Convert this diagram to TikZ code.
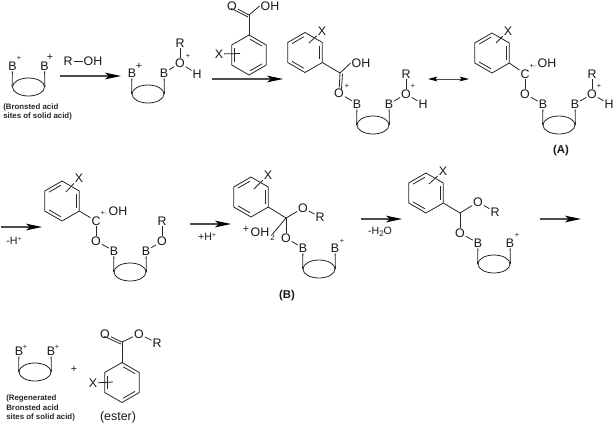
\documentclass[tikz,border=0pt]{standalone}
\usepackage{fontspec}
\setmainfont{Liberation Sans}
\usetikzlibrary{calc,shapes.geometric,arrows.meta}
\newcommand{\supplus}{\raisebox{2.6pt}{\fontsize{5}{5}\selectfont +}}
\newcommand{\subtwo}{\raisebox{-1.6pt}{\fontsize{6}{6}\selectfont 2}}
\tikzset{
  atom/.style={font=\fontsize{9.3}{10}\selectfont,inner sep=0.6pt,text=black!90},
  plusS/.style={font=\fontsize{5.5}{6}\selectfont,inner sep=0pt,text=black!90},
  plusL/.style={font=\fontsize{8}{9}\selectfont,inner sep=0pt,text=black!90},
  bond/.style={draw=black!85,line width=0.6pt},
  rxn/.style={draw=black!70,line width=0.8pt,-{Stealth[length=12pt,width=5pt,inset=3pt,black]}},
  bothway/.style={draw=black!70,line width=0.7pt,{Stealth[length=7pt,width=3.5pt,inset=1.5pt,black]}-{Stealth[length=7pt,width=3.5pt,inset=1.5pt,black]}},
  label/.style={font=\fontsize{8}{10}\selectfont,inner sep=0pt,text=black!90},
  ester/.style={font=\fontsize{9.3}{10}\selectfont,inner sep=0pt,text=black!90},
  note/.style={font=\fontsize{5.9}{7.1}\selectfont\bfseries,inner sep=0pt,align=left,anchor=north west,text=black!85},
  tagbold/.style={font=\fontsize{8.5}{10}\selectfont\bfseries,inner sep=0pt,text=black!90},
  support/.style={ellipse,draw=black!85,line width=0.6pt,minimum width=24pt,minimum height=13.5pt,inner sep=0pt},
}
\newcommand{\benz}[4]{%
  \coordinate (#1) at (#2,#3);
  \coordinate (#1-1) at (#2,#3-20);
  \coordinate (#1-2) at (#2+17.3,#3-10);
  \coordinate (#1-3) at (#2+17.3,#3+10);
  \coordinate (#1-4) at (#2,#3+20);
  \coordinate (#1-5) at (#2-17.3,#3+10);
  \coordinate (#1-6) at (#2-17.3,#3-10);
  \draw[bond] (#1-1)--(#1-2)--(#1-3)--(#1-4)--(#1-5)--(#1-6)--cycle;
  \foreach \i/\j in {#4}{\draw[bond,shorten >=1pt,shorten <=1pt] ($(#1)!.82!(#1-\i)$) -- ($(#1)!.82!(#1-\j)$);}
}
\newcommand{\site}[3]{%
  \node[support] (#1) at (#2,#3) {};
  \node[atom] (#1-L) at (#2-16,#3-21) {B};
  \node[atom] (#1-R) at (#2+16,#3-21) {B};
  \draw[bond] (#1-L) -- (#1.west);
  \draw[bond] (#1-R) -- (#1.east);
}
\begin{document}
\begin{tikzpicture}[x=0.75pt,y=-0.75pt]
\useasboundingbox (0,0) rectangle (614,425);
\site{sa}{28.5}{87}
\node[plusS] (sap1) at (19,58) {+};
\node[plusL] (sap2) at (50,57) {+};
\node[note] (sanote) at (3,103.5) {(Bronsted acid\\sites of solid acid)};
\node[atom] (r1) at (68,61) {R};
\node[atom] (oh1) at (93,61) {OH};
\draw[bond] (r1) -- (oh1);
\coordinate (a1s) at (60,76); \coordinate (a1e) at (121,76);
\draw[rxn] (a1s) -- (a1e);
\site{sb}{148}{94}
\node[plusL] (sbp) at (139,66) {+};
\node[atom] (sbO) at (180,63) {O};
\node[plusS] (sbOp) at (188,56) {+};
\node[atom] (sbRa) at (180,43) {R};
\node[atom] (sbH) at (197,74) {H};
\draw[bond] (sb-R) -- (sbO);
\draw[bond] (sbRa) -- (sbO);
\draw[bond] (sbO) -- (sbH);
\coordinate (a2s) at (212,79); \coordinate (a2e) at (283,79);
\draw[rxn] (a2s) -- (a2e);
\benz{ba}{249}{55}{5/6,1/2,3/4}
\coordinate (baC) at (249,15);
\node[atom] (baO) at (232,6) {O};
\node[atom] (baOH) at (270,6) {OH};
\node[atom] (baX) at (219,54) {X};
\coordinate (baXe) at (240,53.5);
\draw[bond] (ba-1) -- (baC);
\draw[bond] (baC) -- (baOH.west);
\draw[bond] (baC) -- (baO);
\draw[bond] ($(baC)+(-1,2)$) -- ($(baO)+(-0.8,2.4)$);
\draw[bond] (baX) -- (baXe);
\benz{c}{305}{52.5}{6/1,2/3,4/5}
\node[atom] (cX) at (322,31) {X};
\coordinate (cXe) at (309,43);
\draw[bond] (cX) -- (cXe);
\coordinate (cC) at (340,73);
\node[atom] (cOH) at (361,63) {OH};
\node[atom] (cO) at (339,93) {O};
\node[plusS] (cOp) at (347,86) {+};
\draw[bond] (c-3) -- (cC);
\draw[bond] (cC) -- (cOH.west);
\draw[bond] (cC) -- (cO);
\draw[bond] ($(cC)+(2.5,0.6)$) -- ($(cO)+(2.5,-4)$);
\site{sc}{373}{125}
\draw[bond] (cO) -- (sc-L);
\node[atom] (cO2) at (406,94) {O};
\node[plusS] (cO2p) at (413,86) {+};
\node[atom] (cR) at (406,74) {R};
\node[atom] (cH) at (423,104) {H};
\draw[bond] (sc-R) -- (cO2);
\draw[bond] (cR) -- (cO2);
\draw[bond] (cO2) -- (cH);
\coordinate (a3s) at (428,79); \coordinate (a3e) at (469,79);
\draw[bothway] (a3s) -- (a3e);
\benz{d}{492}{53}{6/1,2/3,4/5}
\node[atom] (dX) at (508,31) {X};
\coordinate (dXe) at (496,43);
\draw[bond] (dX) -- (dXe);
\node[atom] (dC) at (525,74) {C};
\node[plusS] (dCp) at (533,66) {+·};
\node[atom] (dOH) at (547,63) {OH};
\node[atom] (dO) at (525,94) {O};
\draw[bond] (d-3) -- (dC);
\draw[bond] (dC) -- (dO);
\site{sd}{559}{125}
\draw[bond] (dO) -- (sd-L);
\node[atom] (dO2) at (592,94) {O};
\node[plusS] (dO2p) at (599,86) {+};
\node[atom] (dR) at (592,74) {R};
\node[atom] (dH) at (609,104) {H};
\draw[bond] (sd-R) -- (dO2);
\draw[bond] (dR) -- (dO2);
\draw[bond] (dO2) -- (dH);
\node[tagbold] (tagA) at (561,151) {(A)};
\coordinate (a4s) at (1,227); \coordinate (a4e) at (42,227);
\draw[rxn] (a4s) -- (a4e);
\node[label] (l4) at (14,241) {-H\supplus};
\benz{e}{62}{201}{6/1,2/3,4/5}
\node[atom] (eX) at (79,178) {X};
\coordinate (eXe) at (66,192);
\draw[bond] (eX) -- (eXe);
\node[atom] (eC) at (96,221) {C};
\node[plusS] (eCp) at (104,213) {+·};
\node[atom] (eOH) at (118,211) {OH};
\node[atom] (eO) at (96,241) {O};
\draw[bond] (e-3) -- (eC);
\draw[bond] (eC) -- (eO);
\site{se}{130}{272}
\draw[bond] (eO) -- (se-L);
\node[atom] (eO2) at (162,241) {O};
\node[atom] (eR) at (162,221) {R};
\draw[bond] (se-R) -- (eO2);
\draw[bond] (eR) -- (eO2);
\coordinate (a5s) at (190,224); \coordinate (a5e) at (231,224);
\draw[rxn] (a5s) -- (a5e);
\node[label] (l5) at (207,237) {+H\supplus};
\benz{f}{251}{197}{6/1,2/3,4/5}
\node[atom] (fX) at (268,175) {X};
\coordinate (fXe) at (254,189);
\draw[bond] (fX) -- (fXe);
\coordinate (fC) at (286,218);
\node[plusL] (fp) at (246,229) {+};
\node[atom] (fOH) at (260,232) {OH};
\node[atom,font=\fontsize{6}{7}\selectfont] (f2) at (272.5,238) {2};
\node[atom] (fO) at (286,238) {O};
\node[atom] (fO2) at (303,208) {O};
\node[atom] (fR) at (320,217) {R};
\draw[bond] (f-3) -- (fC);
\draw[bond] (fC) -- (fO);
\draw[bond] (fC) -- (fO2);
\draw[bond] (fO2) -- (fR);
\draw[bond] (fC) -- (f2.north);
\site{sf}{319}{269}
\node[plusS] (sfp) at (342,241) {+};
\draw[bond] (fO) -- (sf-L);
\node[tagbold] (tagB) at (287,296) {(B)};
\coordinate (a6s) at (361,219); \coordinate (a6e) at (402,219);
\draw[rxn] (a6s) -- (a6e);
\node[label] (l6) at (380,232) {-H\subtwo O};
\benz{g}{426}{193}{6/1,2/3,4/5}
\node[atom] (gX) at (443,171) {X};
\coordinate (gXe) at (429,184);
\draw[bond] (gX) -- (gXe);
\coordinate (gC) at (460,213);
\node[atom] (gO2) at (478,202) {O};
\node[atom] (gR) at (495,212) {R};
\node[atom] (gO) at (460,233) {O};
\draw[bond] (g-3) -- (gC);
\draw[bond] (gC) -- (gO2);
\draw[bond] (gO2) -- (gR);
\draw[bond] (gC) -- (gO);
\site{sg}{494}{264}
\node[plusS] (sgp) at (517,235) {+};
\draw[bond] (gO) -- (sg-L);
\coordinate (a7s) at (540,219); \coordinate (a7e) at (581,219);
\draw[rxn] (a7s) -- (a7e);
\site{sh}{35}{372}
\node[plusS] (shp1) at (25,347) {+};
\node[plusS] (shp2) at (57,347) {+};
\node[note] (shnote) at (6,395) {(Regenerated\\Bronsted acid\\sites of solid acid)};
\node[label] (plus) at (74,369) {+};
\benz{h}{122}{382.5}{5/6,1/2,3/4}
\coordinate (hC) at (122,342);
\node[atom] (hO) at (105,334) {O};
\node[atom] (hO2) at (139,334) {O};
\node[atom] (hR) at (157,343) {R};
\node[atom] (hX) at (93,383) {X};
\coordinate (hXe) at (113,382);
\draw[bond] (h-1) -- (hC);
\draw[bond] (hC) -- (hO2);
\draw[bond] (hO2) -- (hR);
\draw[bond] (hC) -- (hO);
\draw[bond] ($(hC)+(-1,2)$) -- ($(hO)+(-0.8,2.4)$);
\draw[bond] (hX) -- (hXe);
\node[ester] (ester) at (118,417) {(ester)};
\end{tikzpicture}
\end{document}
